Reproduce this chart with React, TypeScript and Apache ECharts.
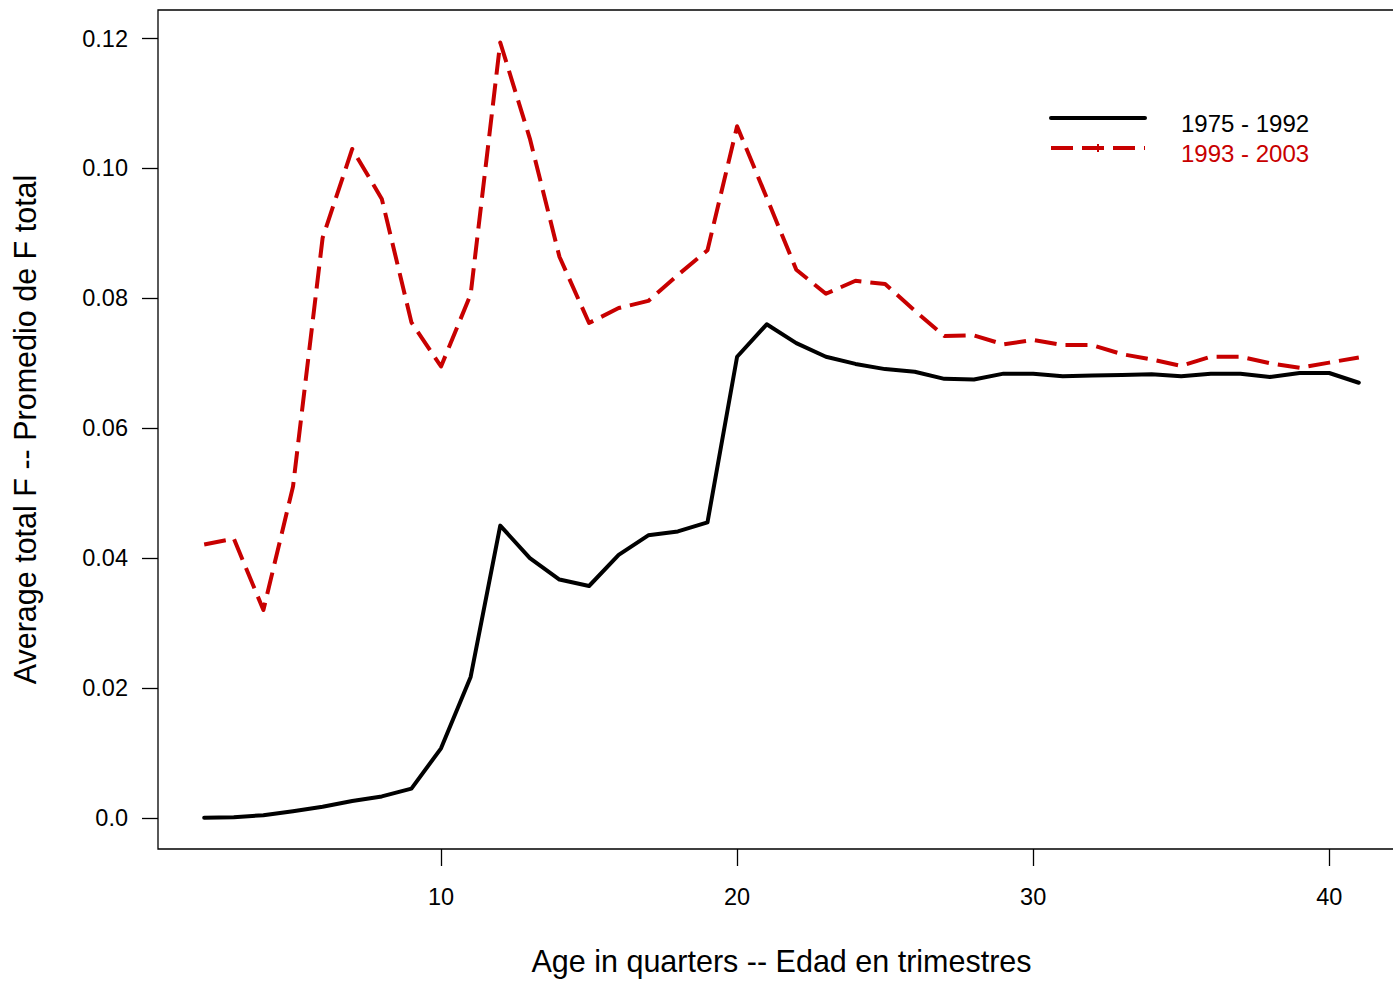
import React, { useEffect, useRef } from "react";
import * as echarts from "echarts";

const ages = [2, 3, 4, 5, 6, 7, 8, 9, 10, 11, 12, 13, 14, 15, 16, 17, 18, 19, 20, 21, 22, 23, 24, 25, 26, 27, 28, 29, 30, 31, 32, 33, 34, 35, 36, 37, 38, 39, 40, 41];

const period1975_1992 = [0.0000, 0.0001, 0.0004, 0.0010, 0.0017, 0.0026, 0.0033, 0.0045, 0.0107, 0.0217, 0.0450, 0.0400, 0.0367, 0.0357, 0.0405, 0.0435, 0.0441, 0.0455, 0.0710, 0.0760, 0.0731, 0.0710, 0.0699, 0.0691, 0.0687, 0.0676, 0.0675, 0.0684, 0.0684, 0.0680, 0.0681, 0.0682, 0.0683, 0.0680, 0.0684, 0.0684, 0.0679, 0.0685, 0.0685, 0.0670];

const period1993_2003 = [0.0421, 0.0430, 0.0320, 0.0510, 0.0893, 0.1030, 0.0953, 0.0763, 0.0695, 0.0806, 0.1194, 0.1046, 0.0864, 0.0762, 0.0785, 0.0796, 0.0836, 0.0874, 0.1065, 0.0955, 0.0844, 0.0807, 0.0827, 0.0822, 0.0781, 0.0742, 0.0743, 0.0729, 0.0736, 0.0728, 0.0728, 0.0714, 0.0706, 0.0696, 0.0710, 0.0710, 0.0700, 0.0693, 0.0701, 0.0709];

const seriesNames = ["1975 - 1992", "1993 - 2003"];
const xTicks = [10, 20, 30, 40];
const yTicks = [0, 0.02, 0.04, 0.06, 0.08, 0.1, 0.12];
const yTickLabels = ["0.0", "0.02", "0.04", "0.06", "0.08", "0.10", "0.12"];
const xTitle = "Age in quarters -- Edad en trimestres";
const yTitle = "Average total F -- Promedio de F total";

const RED = "#C80000";
const FONT = "Liberation Sans, Arial, sans-serif";

export default function App() {
  const ref = useRef<HTMLDivElement>(null);

  useEffect(() => {
    document.body.style.margin = "0";
    if (!ref.current) return;
    const chart = echarts.init(ref.current, null, { renderer: "svg" });
    const blackData = ages.map((a, i) => [a, period1975_1992[i]]);
    const redData = ages.map((a, i) => [a, period1993_2003[i]]);

    chart.setOption({
      animation: false,
      backgroundColor: "#ffffff",
      textStyle: { fontFamily: FONT },
      grid: {
        left: 158,
        top: 10,
        width: 1247,
        height: 843,
        show: true,
        borderColor: "#000",
        borderWidth: 1.3,
        backgroundColor: "transparent",
      },
      xAxis: {
        type: "value",
        min: 0.44,
        max: 42.56,
        axisLine: { show: false, onZero: false },
        splitLine: { show: false },
        axisTick: {
          show: true,
          customValues: xTicks,
          length: 17,
          lineStyle: { color: "#000", width: 1.3 },
        },
        axisLabel: {
          customValues: xTicks,
          margin: 36,
          fontSize: 23.5,
          color: "#000",
          fontFamily: FONT,
        },
        name: xTitle,
        nameLocation: "middle",
        nameGap: 96,
        nameTextStyle: { fontSize: 30.5, color: "#000", fontFamily: FONT },
      },
      yAxis: {
        type: "value",
        min: -0.0048,
        max: 0.1244,
        axisLine: { show: false, onZero: false },
        splitLine: { show: false },
        axisTick: {
          show: true,
          customValues: yTicks,
          length: 16,
          lineStyle: { color: "#000", width: 1.3 },
        },
        axisLabel: {
          customValues: yTicks,
          margin: 30,
          fontSize: 23.5,
          color: "#000",
          fontFamily: FONT,
          formatter: (v: number) => {
            const idx = yTicks.findIndex((t) => Math.abs(t - v) < 1e-9);
            return idx >= 0 ? yTickLabels[idx] : "";
          },
        },
        name: yTitle,
        nameLocation: "middle",
        nameGap: 118,
        nameTextStyle: { fontSize: 30.5, color: "#000", fontFamily: FONT },
      },
      series: [
        {
          name: seriesNames[0],
          type: "line",
          data: blackData,
          showSymbol: false,
          symbol: "none",
          lineStyle: { color: "#000", width: 4, join: "round", cap: "round" },
        },
        {
          name: seriesNames[1],
          type: "line",
          data: redData,
          showSymbol: false,
          symbol: "none",
          lineStyle: { color: RED, width: 4, type: [22, 9], join: "round" },
        },
      ],
      graphic: [
        {
          type: "line",
          shape: { x1: 1051, y1: 118, x2: 1145, y2: 118 },
          style: { stroke: "#000", lineWidth: 4, lineCap: "round" },
        },
        {
          type: "text",
          x: 1181,
          y: 123,
          style: {
            text: seriesNames[0],
            fill: "#000",
            font: `24px ${FONT}`,
            textVerticalAlign: "middle",
            verticalAlign: "middle",
          },
        },
        {
          type: "line",
          shape: { x1: 1051, y1: 148, x2: 1145, y2: 148 },
          style: { stroke: RED, lineWidth: 4, lineDash: [22, 9] },
        },
        {
          type: "line",
          shape: { x1: 1098, y1: 144, x2: 1098, y2: 152 },
          style: { stroke: RED, lineWidth: 2 },
        },
        {
          type: "text",
          x: 1181,
          y: 153,
          style: {
            text: seriesNames[1],
            fill: RED,
            font: `24px ${FONT}`,
            textVerticalAlign: "middle",
            verticalAlign: "middle",
          },
        },
      ],
    });

    return () => {
      chart.dispose();
    };
  }, []);

  return (
    <div style={{ width: 1393, height: 981, overflow: "hidden" }}>
      <div ref={ref} style={{ width: 1420, height: 981 }} />
    </div>
  );
}
